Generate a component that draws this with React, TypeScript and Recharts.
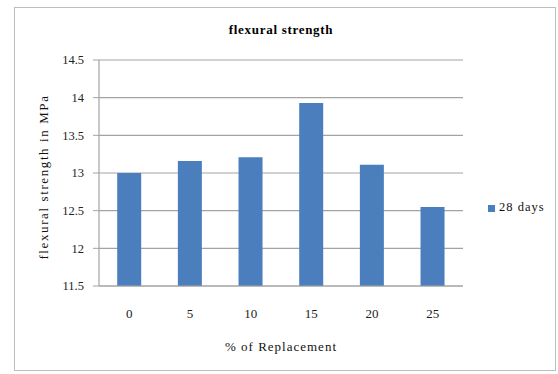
import React from 'react';
import {
  BarChart, Bar, XAxis, YAxis, CartesianGrid, Legend, Label,
} from 'recharts';

const replacement = ['0', '5', '10', '15', '20', '25'];
const strength28 = [13.0, 13.16, 13.21, 13.93, 13.11, 12.55];
const yTicks = [11.5, 12, 12.5, 13, 13.5, 14, 14.5];

const FONT = 'Liberation Serif';
const GRID = '#a3a3a3';
const BLUE = '#4a7ebd';

// svg text in the chart picks up the serif face from here
const css = `.flex-chart svg text, .flex-chart svg tspan, .flex-chart .recharts-legend-item-text { font-family: 'Liberation Serif', 'Times New Roman', serif !important; }`;

export default function App() {
  const data = replacement.map((name, i) => ({ name, value: strength28[i] }));

  return (
    <div
      className="flex-chart"
      style={{ position: 'absolute', left: 0, top: 0, width: 558, height: 374, background: '#fff', fontFamily: FONT }}
    >
      <style>{css}</style>
      {/* outer chart frame */}
      <div
        style={{
          position: 'absolute', left: 14, top: 7, width: 542, height: 364,
          border: '1px solid #bdbdbd', boxSizing: 'border-box',
        }}
      />
      <div
        style={{
          position: 'absolute', left: 181, top: 23, width: 200, textAlign: 'center',
          fontSize: 13, lineHeight: '14px', fontWeight: 'bold', letterSpacing: 0.7, color: '#000',
        }}
      >
        flexural strength
      </div>

      <BarChart
        width={558}
        height={374}
        data={data}
        margin={{ top: 60, right: 95, bottom: 0, left: 0 }}
        barCategoryGap="30%"
        style={{ position: 'absolute', left: 0, top: 0, fontFamily: FONT }}
      >
        <CartesianGrid vertical={false} stroke={GRID} strokeWidth={1.2} />
        <XAxis
          dataKey="name"
          height={88}
          tickLine={false}
          tickSize={0}
          tickMargin={23}
          axisLine={{ stroke: GRID, strokeWidth: 1.2 }}
          tick={{ fill: '#222', fontSize: 13, fontFamily: FONT }}
        >
          <Label
            value="% of Replacement"
            position="insideBottom"
            offset={23}
            style={{ fill: '#111', fontSize: 13, letterSpacing: 1, fontFamily: FONT }}
          />
        </XAxis>
        <YAxis
          width={99}
          domain={[11.5, 14.5]}
          ticks={yTicks}
          interval={0}
          tickSize={6}
          tickMargin={9}
          axisLine={{ stroke: GRID, strokeWidth: 1.2 }}
          tickLine={{ stroke: GRID }}
          tick={{ fill: '#222', fontSize: 12.5, fontFamily: FONT }}
        >
          <Label
            content={({ viewBox }: any) => {
              const cy = viewBox.y + viewBox.height / 2 + 4;
              return (
                <text
                  x={43}
                  y={cy}
                  transform={`rotate(-90 43 ${cy})`}
                  textAnchor="middle"
                  dominantBaseline="central"
                  style={{ fill: '#111', fontSize: 13, letterSpacing: 1.6, fontFamily: FONT }}
                >
                  flexural strength in MPa
                </text>
              );
            }}
          />
        </YAxis>
        <Legend
          layout="vertical"
          align="center"
          verticalAlign="middle"
          iconType="square"
          iconSize={7}
          wrapperStyle={{ left: 488, top: 200, width: 68, fontSize: 12.5, fontFamily: FONT }}
          formatter={(value) => (
            <span style={{ color: '#111', letterSpacing: 1, fontFamily: FONT }}>{value}</span>
          )}
        />
        <Bar dataKey="value" name="28 days" fill={BLUE} isAnimationActive={false} />
      </BarChart>
    </div>
  );
}
